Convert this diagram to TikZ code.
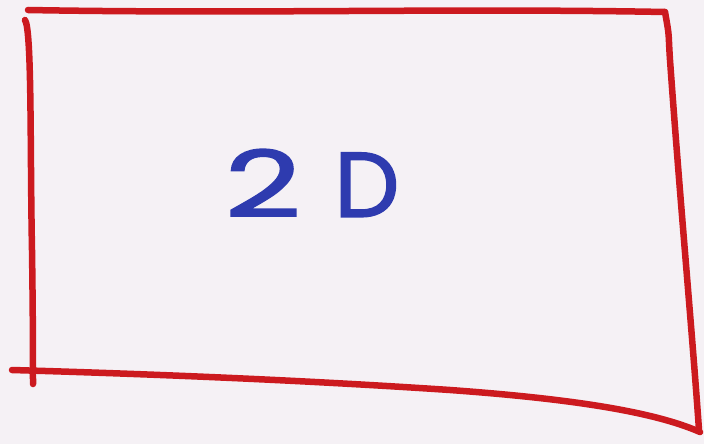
\documentclass[tikz,border=0pt]{standalone}
\usepackage{fontspec}
\setmainfont{Poppins}
\newfontfamily\hand[FakeBold=1.6]{Poppins}
\definecolor{bg}{HTML}{F5F1F5}
\definecolor{pen}{HTML}{CC1A1F}
\definecolor{ink}{HTML}{2E3BAF}
\tikzset{stroke/.style={draw=pen,line width=6.5pt,line cap=round,line join=round}}
\begin{document}
\begin{tikzpicture}[x=1pt,y=-1pt]
\fill[bg] (0,0) rectangle (704,444);
\useasboundingbox (0,0) rectangle (704,444);
% top
\draw[stroke] (28,10) .. controls (250,14) and (450,8) .. (665,12);
% right
\draw[stroke] (665,12) .. controls (670,40) and (668,30) .. (670,60) .. controls (680,200) and (692,330) .. (699,430);
% left
\draw[stroke] (25,20) .. controls (32,30) and (30,150) .. (32,250) .. controls (33,320) and (33,360) .. (33,384);
% bottom
\draw[stroke] (12,370) .. controls (150,374) and (300,380) .. (450,390) .. controls (560,398) and (650,410) .. (700,432);
\node[text=ink,font=\hand\fontsize{92}{92}\selectfont,inner sep=0pt] (t) at (312,183) {\scalebox{1.45}[1]{2}\hspace{0.36em}D};
\end{tikzpicture}
\end{document}
